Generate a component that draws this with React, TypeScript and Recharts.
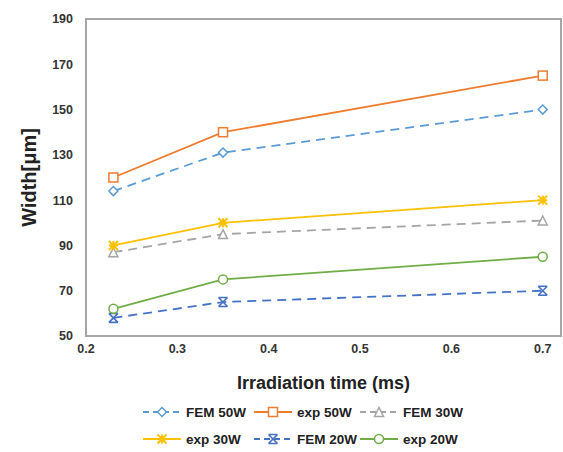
import React from 'react';
import { LineChart, Line, XAxis, YAxis, ReferenceArea, Legend } from 'recharts';

const times = [0.23, 0.35, 0.7];
const fem50 = [114, 131, 150];
const exp50 = [120, 140, 165];
const fem30 = [87, 95, 101];
const exp30 = [90, 100, 110];
const fem20 = [58, 65, 70];
const exp20 = [62, 75, 85];
const xTicks = [0.2, 0.3, 0.4, 0.5, 0.6, 0.7];
const yTicks = [50, 70, 90, 110, 130, 150, 170, 190];

const data = times.map((t, i) => ({
  t,
  fem50: fem50[i],
  exp50: exp50[i],
  fem30: fem30[i],
  exp30: exp30[i],
  fem20: fem20[i],
  exp20: exp20[i],
}));

type Shape = 'diamond' | 'square' | 'triangle' | 'star' | 'x' | 'circle';

const drawMarker = (shape: Shape, cx: number, cy: number, color: string, key?: string) => {
  const s = 4.5;
  switch (shape) {
    case 'diamond':
      return <path key={key} d={`M${cx},${cy - s} L${cx + s},${cy} L${cx},${cy + s} L${cx - s},${cy} Z`} fill="#fff" stroke={color} strokeWidth={1.5} />;
    case 'square':
      return <rect key={key} x={cx - s} y={cy - s} width={2 * s} height={2 * s} fill="#fff" stroke={color} strokeWidth={1.5} />;
    case 'triangle':
      return <path key={key} d={`M${cx},${cy - s} L${cx + s},${cy + s} L${cx - s},${cy + s} Z`} fill="#fff" stroke={color} strokeWidth={1.5} />;
    case 'star':
      return (
        <g key={key}>
          <path d={`M${cx - s},${cy} L${cx + s},${cy} M${cx},${cy - s} L${cx},${cy + s} M${cx - s},${cy - s} L${cx + s},${cy + s} M${cx + s},${cy - s} L${cx - s},${cy + s}`} stroke={color} strokeWidth={2} />
          <circle cx={cx} cy={cy} r={2.5} fill={color} />
        </g>
      );
    case 'x':
      return (
        <g key={key}>
          <path d={`M${cx - s},${cy - s} L${cx + s},${cy + s} M${cx + s},${cy - s} L${cx - s},${cy + s} M${cx - s},${cy - s} L${cx + s},${cy - s} M${cx - s},${cy + s} L${cx + s},${cy + s}`} stroke={color} strokeWidth={1.6} fill="none" />
        </g>
      );
    case 'circle':
    default:
      return <circle key={key} cx={cx} cy={cy} r={s} fill="#fff" stroke={color} strokeWidth={1.5} />;
  }
};

const makeDot = (shape: Shape, color: string) => (props: any) => {
  const { cx, cy, index } = props;
  if (cx == null || cy == null) return <g key={`n${index}`} />;
  return drawMarker(shape, cx, cy, color, `${shape}-${index}`);
};

const series = [
  { key: 'fem50', name: 'FEM 50W', color: '#5b9bd5', dash: '9 6', shape: 'diamond' as Shape },
  { key: 'exp50', name: 'exp 50W', color: '#ed7d31', dash: undefined, shape: 'square' as Shape },
  { key: 'fem30', name: 'FEM 30W', color: '#a5a5a5', dash: '9 6', shape: 'triangle' as Shape },
  { key: 'exp30', name: 'exp 30W', color: '#ffc000', dash: undefined, shape: 'star' as Shape },
  { key: 'fem20', name: 'FEM 20W', color: '#4472c4', dash: '9 6', shape: 'x' as Shape },
  { key: 'exp20', name: 'exp 20W', color: '#70ad47', dash: undefined, shape: 'circle' as Shape },
];

const FONT = '"Liberation Sans", Arial, sans-serif';

const legendCols = [143, 254, 360];
const legendRows = [14, 41];

const CustomLegend = () => (
  <svg width={563} height={56} style={{ display: 'block' }}>
    {series.map((s, i) => {
      const col = i % 3;
      const row = Math.floor(i / 3);
      const x = legendCols[col];
      const y = legendRows[row];
      return (
        <g key={s.key}>
          <line x1={x} y1={y} x2={x + 38} y2={y} stroke={s.color} strokeWidth={2} strokeDasharray={s.dash ? '6 4' : undefined} />
          {drawMarker(s.shape, x + 19, y, s.color)}
          <text x={x + 43} y={y + 4.5} fontFamily={FONT} fontWeight="bold" fontSize={13.5} fill="#222">{s.name}</text>
        </g>
      );
    })}
  </svg>
);

export default function App() {
  return (
    <div style={{ position: 'absolute', left: 0, top: 0, width: 563, height: 452, background: '#fff' }}>
      <LineChart width={563} height={452} data={data} margin={{ top: 19, right: 2, left: 0, bottom: 60 }}>
        <XAxis
          dataKey="t"
          type="number"
          domain={[0.2, 0.72]}
          ticks={xTicks}
          allowDataOverflow
          axisLine={false}
          tickLine={false}
          tickMargin={2}
          height={56}
          tick={{ fontSize: 12.5, fontWeight: 'bold', fill: '#333', fontFamily: FONT }}
          tickFormatter={(v: number) => String(v)}
          label={{ value: 'Irradiation time (ms)', position: 'insideBottom', offset: 3, style: { fontSize: 18, fontWeight: 'bold', fill: '#222', fontFamily: FONT } }}
        />
        <YAxis
          type="number"
          domain={[50, 190]}
          ticks={yTicks}
          axisLine={false}
          tickLine={false}
          tickMargin={7}
          width={86}
          tick={{ fontSize: 12.5, fontWeight: 'bold', fill: '#333', fontFamily: FONT }}
          label={{ value: 'Width[μm]', angle: -90, position: 'insideLeft', offset: 29, style: { textAnchor: 'middle', fontSize: 20, fontWeight: 'bold', fill: '#222', fontFamily: FONT } }}
        />
        <ReferenceArea x1={0.2} x2={0.72} y1={50} y2={190} fill="none" stroke="#a6a6a6" strokeWidth={2} ifOverflow="visible" />
        {series.map((s) => (
          <Line
            key={s.key}
            dataKey={s.key}
            name={s.name}
            stroke={s.color}
            strokeWidth={1.8}
            strokeDasharray={s.dash}
            dot={makeDot(s.shape, s.color)}
            activeDot={false}
            isAnimationActive={false}
          />
        ))}
        <Legend
          layout="horizontal"
          verticalAlign="middle"
          align="center"
          content={() => <CustomLegend />}
          wrapperStyle={{ top: 398, left: 0, width: 563, height: 56 }}
        />
      </LineChart>
    </div>
  );
}
